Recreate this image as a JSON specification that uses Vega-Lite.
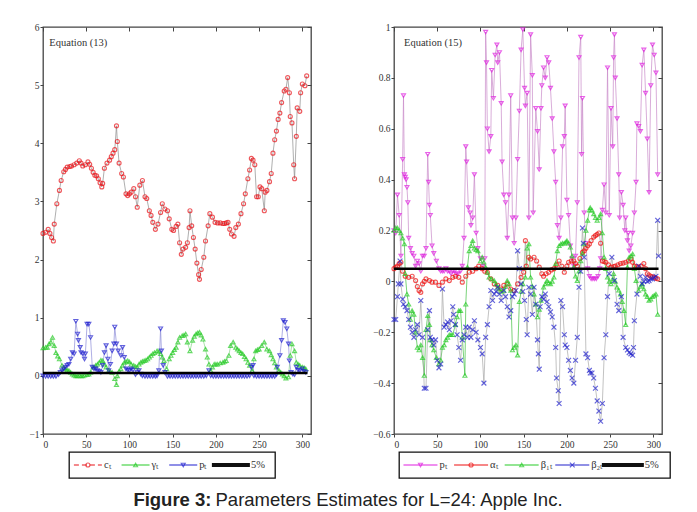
{
"$schema": "https://vega.github.io/schema/vega-lite/v6.json",
"padding": {"left": 28, "top": 21, "right": 0, "bottom": 0},
"background": "white",
"config": {
  "view": {"stroke": "#444", "strokeWidth": 1.3},
  "axis": {"labelFont": "Liberation Serif", "labelFontSize": 9.5, "labelColor": "#333", "tickColor": "#444", "grid": false, "domain": false, "title": null}
},
"datasets": {
"left": [
{"s":"c","t":0,"v":2.45},{"s":"c","t":3,"v":2.47},{"s":"c","t":6,"v":2.52},{"s":"c","t":8,"v":2.45},{"s":"c","t":10,"v":2.38},{"s":"c","t":12,"v":2.32},{"s":"c","t":13,"v":2.61},{"s":"c","t":16,"v":2.96},{"s":"c","t":19,"v":3.19},{"s":"c","t":21,"v":3.36},{"s":"c","t":24,"v":3.51},{"s":"c","t":26,"v":3.55},{"s":"c","t":28,"v":3.59},{"s":"c","t":31,"v":3.6},{"s":"c","t":33,"v":3.61},{"s":"c","t":36,"v":3.63},{"s":"c","t":39,"v":3.66},{"s":"c","t":42,"v":3.7},{"s":"c","t":44,"v":3.66},{"s":"c","t":46,"v":3.61},{"s":"c","t":49,"v":3.63},{"s":"c","t":52,"v":3.68},{"s":"c","t":54,"v":3.64},{"s":"c","t":56,"v":3.57},{"s":"c","t":58,"v":3.5},{"s":"c","t":60,"v":3.45},{"s":"c","t":62,"v":3.44},{"s":"c","t":64,"v":3.39},{"s":"c","t":66,"v":3.32},{"s":"c","t":68,"v":3.25},{"s":"c","t":69,"v":3.31},{"s":"c","t":71,"v":3.57},{"s":"c","t":74,"v":3.66},{"s":"c","t":77,"v":3.71},{"s":"c","t":79,"v":3.77},{"s":"c","t":81,"v":3.83},{"s":"c","t":83,"v":3.89},{"s":"c","t":85,"v":4.3},{"s":"c","t":86,"v":4.03},{"s":"c","t":88,"v":3.66},{"s":"c","t":91,"v":3.48},{"s":"c","t":93,"v":3.42},{"s":"c","t":96,"v":3.13},{"s":"c","t":98,"v":3.1},{"s":"c","t":100,"v":3.13},{"s":"c","t":102,"v":3.16},{"s":"c","t":105,"v":3.22},{"s":"c","t":107,"v":3.08},{"s":"c","t":109,"v":2.9},{"s":"c","t":112,"v":3.28},{"s":"c","t":115,"v":3.36},{"s":"c","t":118,"v":3.08},{"s":"c","t":120,"v":3.05},{"s":"c","t":123,"v":2.84},{"s":"c","t":125,"v":2.76},{"s":"c","t":127,"v":2.64},{"s":"c","t":130,"v":2.52},{"s":"c","t":133,"v":2.61},{"s":"c","t":136,"v":2.81},{"s":"c","t":138,"v":2.96},{"s":"c","t":141,"v":2.87},{"s":"c","t":144,"v":2.84},{"s":"c","t":146,"v":2.7},{"s":"c","t":149,"v":2.52},{"s":"c","t":151,"v":2.5},{"s":"c","t":154,"v":2.57},{"s":"c","t":156,"v":2.61},{"s":"c","t":158,"v":2.29},{"s":"c","t":160,"v":2.09},{"s":"c","t":162,"v":2.18},{"s":"c","t":165,"v":2.21},{"s":"c","t":167,"v":2.29},{"s":"c","t":169,"v":2.55},{"s":"c","t":170,"v":2.84},{"s":"c","t":172,"v":2.58},{"s":"c","t":174,"v":2.38},{"s":"c","t":176,"v":2.18},{"s":"c","t":178,"v":1.94},{"s":"c","t":180,"v":1.74},{"s":"c","t":181,"v":1.66},{"s":"c","t":183,"v":1.83},{"s":"c","t":186,"v":2.04},{"s":"c","t":188,"v":2.32},{"s":"c","t":191,"v":2.58},{"s":"c","t":193,"v":2.79},{"s":"c","t":196,"v":2.73},{"s":"c","t":199,"v":2.64},{"s":"c","t":202,"v":2.63},{"s":"c","t":205,"v":2.63},{"s":"c","t":208,"v":2.62},{"s":"c","t":210,"v":2.62},{"s":"c","t":212,"v":2.63},{"s":"c","t":214,"v":2.64},{"s":"c","t":216,"v":2.52},{"s":"c","t":218,"v":2.44},{"s":"c","t":221,"v":2.4},{"s":"c","t":223,"v":2.55},{"s":"c","t":226,"v":2.61},{"s":"c","t":229,"v":2.79},{"s":"c","t":232,"v":2.96},{"s":"c","t":234,"v":3.13},{"s":"c","t":237,"v":3.39},{"s":"c","t":239,"v":3.54},{"s":"c","t":241,"v":3.74},{"s":"c","t":243,"v":3.71},{"s":"c","t":245,"v":3.63},{"s":"c","t":247,"v":3.08},{"s":"c","t":249,"v":3.08},{"s":"c","t":251,"v":3.25},{"s":"c","t":253,"v":3.22},{"s":"c","t":256,"v":2.84},{"s":"c","t":257,"v":3.16},{"s":"c","t":259,"v":3.19},{"s":"c","t":262,"v":3.34},{"s":"c","t":264,"v":3.48},{"s":"c","t":266,"v":3.83},{"s":"c","t":268,"v":4.06},{"s":"c","t":270,"v":4.21},{"s":"c","t":272,"v":4.41},{"s":"c","t":274,"v":4.52},{"s":"c","t":276,"v":4.7},{"s":"c","t":279,"v":4.9},{"s":"c","t":281,"v":4.93},{"s":"c","t":283,"v":5.13},{"s":"c","t":285,"v":4.87},{"s":"c","t":286,"v":4.46},{"s":"c","t":288,"v":4.35},{"s":"c","t":290,"v":3.63},{"s":"c","t":291,"v":3.39},{"s":"c","t":293,"v":4.12},{"s":"c","t":294,"v":4.61},{"s":"c","t":297,"v":4.55},{"s":"c","t":298,"v":4.87},{"s":"c","t":300,"v":5.02},{"s":"c","t":303,"v":4.99},{"s":"c","t":305,"v":5.16},
{"s":"g","t":0,"v":0.48},{"s":"g","t":3,"v":0.49},{"s":"g","t":5,"v":0.49},{"s":"g","t":7,"v":0.55},{"s":"g","t":9,"v":0.58},{"s":"g","t":11,"v":0.66},{"s":"g","t":13,"v":0.52},{"s":"g","t":15,"v":0.4},{"s":"g","t":17,"v":0.34},{"s":"g","t":19,"v":0.29},{"s":"g","t":22,"v":0.18},{"s":"g","t":24,"v":0.14},{"s":"g","t":26,"v":0.12},{"s":"g","t":28,"v":0.1},{"s":"g","t":30,"v":0.09},{"s":"g","t":32,"v":0.06},{"s":"g","t":34,"v":0.03},{"s":"g","t":36,"v":0.01},{"s":"g","t":38,"v":0.0},{"s":"g","t":40,"v":0.0},{"s":"g","t":42,"v":0.01},{"s":"g","t":44,"v":0.0},{"s":"g","t":46,"v":0.0},{"s":"g","t":48,"v":0.01},{"s":"g","t":51,"v":0.02},{"s":"g","t":53,"v":0.03},{"s":"g","t":55,"v":0.06},{"s":"g","t":58,"v":0.15},{"s":"g","t":61,"v":0.18},{"s":"g","t":63,"v":0.2},{"s":"g","t":65,"v":0.23},{"s":"g","t":67,"v":0.27},{"s":"g","t":69,"v":0.26},{"s":"g","t":71,"v":0.2},{"s":"g","t":73,"v":0.15},{"s":"g","t":76,"v":0.09},{"s":"g","t":78,"v":0.07},{"s":"g","t":80,"v":0.06},{"s":"g","t":83,"v":-0.05},{"s":"g","t":85,"v":-0.15},{"s":"g","t":86,"v":0.0},{"s":"g","t":88,"v":0.08},{"s":"g","t":90,"v":0.12},{"s":"g","t":92,"v":0.18},{"s":"g","t":94,"v":0.23},{"s":"g","t":96,"v":0.25},{"s":"g","t":98,"v":0.26},{"s":"g","t":100,"v":0.24},{"s":"g","t":102,"v":0.2},{"s":"g","t":105,"v":0.18},{"s":"g","t":107,"v":0.16},{"s":"g","t":109,"v":0.15},{"s":"g","t":111,"v":0.2},{"s":"g","t":113,"v":0.23},{"s":"g","t":115,"v":0.25},{"s":"g","t":117,"v":0.26},{"s":"g","t":119,"v":0.27},{"s":"g","t":121,"v":0.29},{"s":"g","t":123,"v":0.32},{"s":"g","t":125,"v":0.35},{"s":"g","t":127,"v":0.38},{"s":"g","t":129,"v":0.4},{"s":"g","t":132,"v":0.43},{"s":"g","t":134,"v":0.42},{"s":"g","t":136,"v":0.38},{"s":"g","t":138,"v":0.32},{"s":"g","t":140,"v":0.26},{"s":"g","t":143,"v":0.12},{"s":"g","t":146,"v":0.29},{"s":"g","t":148,"v":0.35},{"s":"g","t":150,"v":0.4},{"s":"g","t":152,"v":0.45},{"s":"g","t":154,"v":0.49},{"s":"g","t":156,"v":0.58},{"s":"g","t":158,"v":0.66},{"s":"g","t":161,"v":0.69},{"s":"g","t":163,"v":0.7},{"s":"g","t":165,"v":0.72},{"s":"g","t":167,"v":0.58},{"s":"g","t":170,"v":0.43},{"s":"g","t":173,"v":0.61},{"s":"g","t":175,"v":0.68},{"s":"g","t":177,"v":0.72},{"s":"g","t":179,"v":0.74},{"s":"g","t":181,"v":0.75},{"s":"g","t":183,"v":0.7},{"s":"g","t":185,"v":0.63},{"s":"g","t":188,"v":0.46},{"s":"g","t":190,"v":0.32},{"s":"g","t":192,"v":0.2},{"s":"g","t":194,"v":0.09},{"s":"g","t":196,"v":0.15},{"s":"g","t":198,"v":0.2},{"s":"g","t":200,"v":0.2},{"s":"g","t":202,"v":0.2},{"s":"g","t":205,"v":0.22},{"s":"g","t":208,"v":0.23},{"s":"g","t":210,"v":0.25},{"s":"g","t":212,"v":0.26},{"s":"g","t":215,"v":0.35},{"s":"g","t":217,"v":0.52},{"s":"g","t":220,"v":0.58},{"s":"g","t":223,"v":0.49},{"s":"g","t":225,"v":0.46},{"s":"g","t":227,"v":0.43},{"s":"g","t":229,"v":0.4},{"s":"g","t":231,"v":0.38},{"s":"g","t":233,"v":0.33},{"s":"g","t":235,"v":0.29},{"s":"g","t":237,"v":0.23},{"s":"g","t":239,"v":0.18},{"s":"g","t":242,"v":0.09},{"s":"g","t":244,"v":0.29},{"s":"g","t":246,"v":0.43},{"s":"g","t":248,"v":0.45},{"s":"g","t":250,"v":0.46},{"s":"g","t":253,"v":0.52},{"s":"g","t":256,"v":0.58},{"s":"g","t":259,"v":0.46},{"s":"g","t":262,"v":0.43},{"s":"g","t":264,"v":0.36},{"s":"g","t":266,"v":0.29},{"s":"g","t":268,"v":0.22},{"s":"g","t":270,"v":0.15},{"s":"g","t":273,"v":0.09},{"s":"g","t":275,"v":0.06},{"s":"g","t":277,"v":0.03},{"s":"g","t":279,"v":0.0},{"s":"g","t":281,"v":-0.04},{"s":"g","t":284,"v":-0.02},{"s":"g","t":286,"v":0.35},{"s":"g","t":288,"v":0.55},{"s":"g","t":291,"v":0.43},{"s":"g","t":293,"v":0.23},{"s":"g","t":295,"v":0.2},{"s":"g","t":297,"v":0.18},{"s":"g","t":300,"v":0.15},{"s":"g","t":302,"v":0.14},{"s":"g","t":304,"v":0.12},
{"s":"p","t":0,"v":0.0},{"s":"p","t":3,"v":-0.01},{"s":"p","t":6,"v":-0.01},{"s":"p","t":9,"v":-0.01},{"s":"p","t":12,"v":-0.01},{"s":"p","t":15,"v":-0.01},{"s":"p","t":18,"v":0.02},{"s":"p","t":20,"v":0.06},{"s":"p","t":22,"v":0.09},{"s":"p","t":24,"v":0.12},{"s":"p","t":26,"v":0.15},{"s":"p","t":28,"v":0.18},{"s":"p","t":30,"v":0.2},{"s":"p","t":32,"v":0.29},{"s":"p","t":34,"v":0.4},{"s":"p","t":36,"v":0.38},{"s":"p","t":38,"v":0.94},{"s":"p","t":40,"v":0.72},{"s":"p","t":41,"v":0.61},{"s":"p","t":43,"v":0.49},{"s":"p","t":44,"v":0.4},{"s":"p","t":46,"v":0.38},{"s":"p","t":48,"v":0.29},{"s":"p","t":49,"v":0.38},{"s":"p","t":51,"v":0.89},{"s":"p","t":53,"v":0.89},{"s":"p","t":55,"v":0.66},{"s":"p","t":57,"v":0.15},{"s":"p","t":59,"v":0.12},{"s":"p","t":61,"v":0.12},{"s":"p","t":63,"v":0.09},{"s":"p","t":65,"v":0.08},{"s":"p","t":67,"v":0.06},{"s":"p","t":69,"v":0.18},{"s":"p","t":71,"v":0.4},{"s":"p","t":73,"v":0.52},{"s":"p","t":75,"v":0.29},{"s":"p","t":76,"v":0.09},{"s":"p","t":78,"v":0.2},{"s":"p","t":80,"v":0.43},{"s":"p","t":82,"v":0.55},{"s":"p","t":83,"v":0.84},{"s":"p","t":85,"v":0.55},{"s":"p","t":87,"v":0.43},{"s":"p","t":90,"v":0.35},{"s":"p","t":92,"v":0.49},{"s":"p","t":94,"v":0.32},{"s":"p","t":96,"v":0.12},{"s":"p","t":98,"v":0.1},{"s":"p","t":100,"v":0.09},{"s":"p","t":102,"v":0.12},{"s":"p","t":104,"v":0.1},{"s":"p","t":107,"v":0.02},{"s":"p","t":109,"v":0.06},{"s":"p","t":111,"v":0.09},{"s":"p","t":113,"v":0.03},{"s":"p","t":115,"v":0.0},{"s":"p","t":118,"v":-0.01},{"s":"p","t":121,"v":-0.01},{"s":"p","t":124,"v":-0.01},{"s":"p","t":127,"v":-0.01},{"s":"p","t":130,"v":-0.01},{"s":"p","t":132,"v":0.0},{"s":"p","t":134,"v":0.09},{"s":"p","t":136,"v":0.81},{"s":"p","t":137,"v":0.43},{"s":"p","t":139,"v":0.18},{"s":"p","t":141,"v":0.06},{"s":"p","t":144,"v":-0.01},{"s":"p","t":147,"v":-0.01},{"s":"p","t":150,"v":-0.01},{"s":"p","t":153,"v":-0.01},{"s":"p","t":156,"v":-0.01},{"s":"p","t":159,"v":-0.01},{"s":"p","t":162,"v":-0.01},{"s":"p","t":165,"v":-0.01},{"s":"p","t":168,"v":-0.01},{"s":"p","t":171,"v":-0.01},{"s":"p","t":174,"v":-0.01},{"s":"p","t":177,"v":-0.01},{"s":"p","t":180,"v":-0.01},{"s":"p","t":183,"v":-0.01},{"s":"p","t":186,"v":-0.01},{"s":"p","t":189,"v":0.0},{"s":"p","t":192,"v":0.09},{"s":"p","t":194,"v":0.0},{"s":"p","t":197,"v":-0.01},{"s":"p","t":200,"v":-0.01},{"s":"p","t":203,"v":-0.01},{"s":"p","t":206,"v":-0.01},{"s":"p","t":209,"v":-0.01},{"s":"p","t":212,"v":-0.01},{"s":"p","t":215,"v":-0.01},{"s":"p","t":218,"v":-0.01},{"s":"p","t":221,"v":-0.01},{"s":"p","t":224,"v":-0.01},{"s":"p","t":227,"v":-0.01},{"s":"p","t":230,"v":-0.01},{"s":"p","t":233,"v":-0.01},{"s":"p","t":236,"v":-0.01},{"s":"p","t":239,"v":0.0},{"s":"p","t":241,"v":0.15},{"s":"p","t":243,"v":0.18},{"s":"p","t":244,"v":0.0},{"s":"p","t":247,"v":-0.01},{"s":"p","t":250,"v":-0.01},{"s":"p","t":253,"v":-0.01},{"s":"p","t":256,"v":-0.01},{"s":"p","t":259,"v":-0.01},{"s":"p","t":262,"v":-0.01},{"s":"p","t":265,"v":-0.01},{"s":"p","t":268,"v":-0.01},{"s":"p","t":270,"v":0.02},{"s":"p","t":271,"v":0.15},{"s":"p","t":274,"v":0.35},{"s":"p","t":276,"v":0.61},{"s":"p","t":278,"v":0.95},{"s":"p","t":280,"v":0.92},{"s":"p","t":282,"v":0.81},{"s":"p","t":284,"v":0.55},{"s":"p","t":285,"v":0.26},{"s":"p","t":287,"v":0.06},{"s":"p","t":289,"v":0.03},{"s":"p","t":291,"v":0.02},{"s":"p","t":293,"v":0.15},{"s":"p","t":295,"v":0.1},{"s":"p","t":297,"v":0.09},{"s":"p","t":300,"v":0.12},{"s":"p","t":302,"v":0.08},{"s":"p","t":304,"v":0.06}
],
"right": [
{"s":"p","t":0,"v":0.2},{"s":"p","t":2,"v":0.19},{"s":"p","t":4,"v":0.34},{"s":"p","t":6,"v":0.26},{"s":"p","t":8,"v":0.1},{"s":"p","t":10,"v":0.48},{"s":"p","t":11,"v":0.73},{"s":"p","t":12,"v":0.42},{"s":"p","t":13,"v":0.41},{"s":"p","t":14,"v":0.4},{"s":"p","t":15,"v":0.37},{"s":"p","t":16,"v":0.31},{"s":"p","t":17,"v":0.17},{"s":"p","t":19,"v":0.13},{"s":"p","t":21,"v":0.11},{"s":"p","t":23,"v":0.1},{"s":"p","t":25,"v":0.06},{"s":"p","t":27,"v":0.08},{"s":"p","t":29,"v":0.07},{"s":"p","t":31,"v":0.04},{"s":"p","t":33,"v":0.1},{"s":"p","t":35,"v":0.1},{"s":"p","t":37,"v":0.13},{"s":"p","t":39,"v":0.5},{"s":"p","t":40,"v":0.39},{"s":"p","t":41,"v":0.3},{"s":"p","t":42,"v":0.26},{"s":"p","t":44,"v":0.14},{"s":"p","t":46,"v":0.11},{"s":"p","t":49,"v":0.08},{"s":"p","t":52,"v":0.05},{"s":"p","t":54,"v":0.04},{"s":"p","t":56,"v":0.04},{"s":"p","t":58,"v":0.04},{"s":"p","t":60,"v":0.05},{"s":"p","t":62,"v":0.04},{"s":"p","t":64,"v":0.04},{"s":"p","t":66,"v":0.03},{"s":"p","t":68,"v":0.04},{"s":"p","t":70,"v":0.04},{"s":"p","t":72,"v":0.03},{"s":"p","t":74,"v":0.03},{"s":"p","t":77,"v":0.04},{"s":"p","t":79,"v":0.06},{"s":"p","t":81,"v":0.17},{"s":"p","t":83,"v":0.53},{"s":"p","t":84,"v":0.47},{"s":"p","t":86,"v":0.29},{"s":"p","t":88,"v":0.27},{"s":"p","t":89,"v":0.22},{"s":"p","t":91,"v":0.25},{"s":"p","t":93,"v":0.42},{"s":"p","t":95,"v":0.19},{"s":"p","t":97,"v":0.13},{"s":"p","t":100,"v":0.09},{"s":"p","t":103,"v":0.06},{"s":"p","t":105,"v":0.09},{"s":"p","t":106,"v":0.98},{"s":"p","t":107,"v":0.86},{"s":"p","t":108,"v":0.6},{"s":"p","t":110,"v":0.51},{"s":"p","t":112,"v":0.57},{"s":"p","t":113,"v":0.83},{"s":"p","t":115,"v":0.72},{"s":"p","t":117,"v":0.89},{"s":"p","t":119,"v":0.93},{"s":"p","t":120,"v":0.86},{"s":"p","t":122,"v":0.9},{"s":"p","t":124,"v":0.7},{"s":"p","t":125,"v":0.47},{"s":"p","t":127,"v":0.34},{"s":"p","t":129,"v":0.31},{"s":"p","t":131,"v":0.17},{"s":"p","t":133,"v":0.34},{"s":"p","t":135,"v":0.73},{"s":"p","t":137,"v":0.25},{"s":"p","t":139,"v":0.15},{"s":"p","t":141,"v":0.25},{"s":"p","t":143,"v":0.48},{"s":"p","t":145,"v":0.67},{"s":"p","t":147,"v":0.91},{"s":"p","t":149,"v":0.99},{"s":"p","t":151,"v":0.76},{"s":"p","t":152,"v":0.69},{"s":"p","t":154,"v":0.74},{"s":"p","t":156,"v":0.25},{"s":"p","t":158,"v":0.97},{"s":"p","t":160,"v":0.81},{"s":"p","t":161,"v":0.27},{"s":"p","t":164,"v":0.68},{"s":"p","t":166,"v":0.59},{"s":"p","t":168,"v":0.44},{"s":"p","t":170,"v":0.68},{"s":"p","t":171,"v":0.77},{"s":"p","t":173,"v":0.84},{"s":"p","t":175,"v":0.8},{"s":"p","t":177,"v":0.88},{"s":"p","t":179,"v":0.86},{"s":"p","t":181,"v":0.76},{"s":"p","t":183,"v":0.64},{"s":"p","t":185,"v":0.51},{"s":"p","t":187,"v":0.39},{"s":"p","t":189,"v":0.22},{"s":"p","t":191,"v":0.17},{"s":"p","t":193,"v":0.25},{"s":"p","t":195,"v":0.53},{"s":"p","t":197,"v":0.57},{"s":"p","t":198,"v":0.69},{"s":"p","t":200,"v":0.32},{"s":"p","t":202,"v":0.26},{"s":"p","t":204,"v":0.14},{"s":"p","t":206,"v":0.09},{"s":"p","t":208,"v":0.06},{"s":"p","t":210,"v":0.1},{"s":"p","t":212,"v":0.31},{"s":"p","t":214,"v":0.88},{"s":"p","t":216,"v":0.96},{"s":"p","t":217,"v":0.5},{"s":"p","t":218,"v":0.72},{"s":"p","t":220,"v":0.27},{"s":"p","t":222,"v":0.15},{"s":"p","t":224,"v":0.05},{"s":"p","t":226,"v":0.02},{"s":"p","t":228,"v":0.01},{"s":"p","t":230,"v":0.01},{"s":"p","t":232,"v":0.01},{"s":"p","t":234,"v":0.01},{"s":"p","t":236,"v":0.02},{"s":"p","t":238,"v":0.05},{"s":"p","t":239,"v":0.09},{"s":"p","t":241,"v":0.28},{"s":"p","t":243,"v":0.38},{"s":"p","t":245,"v":0.27},{"s":"p","t":247,"v":0.84},{"s":"p","t":249,"v":0.26},{"s":"p","t":251,"v":0.68},{"s":"p","t":253,"v":0.53},{"s":"p","t":254,"v":0.88},{"s":"p","t":255,"v":0.97},{"s":"p","t":256,"v":0.8},{"s":"p","t":258,"v":0.64},{"s":"p","t":260,"v":0.42},{"s":"p","t":261,"v":0.25},{"s":"p","t":263,"v":0.35},{"s":"p","t":265,"v":0.3},{"s":"p","t":267,"v":0.2},{"s":"p","t":268,"v":0.25},{"s":"p","t":270,"v":0.16},{"s":"p","t":271,"v":0.19},{"s":"p","t":272,"v":0.12},{"s":"p","t":274,"v":0.14},{"s":"p","t":276,"v":0.19},{"s":"p","t":278,"v":0.27},{"s":"p","t":280,"v":0.39},{"s":"p","t":281,"v":0.62},{"s":"p","t":283,"v":0.61},{"s":"p","t":285,"v":0.59},{"s":"p","t":287,"v":0.85},{"s":"p","t":289,"v":0.91},{"s":"p","t":291,"v":0.74},{"s":"p","t":293,"v":0.56},{"s":"p","t":295,"v":0.35},{"s":"p","t":297,"v":0.77},{"s":"p","t":299,"v":0.93},{"s":"p","t":301,"v":0.89},{"s":"p","t":303,"v":0.82},{"s":"p","t":305,"v":0.42},
{"s":"a","t":0,"v":0.05},{"s":"a","t":2,"v":0.055},{"s":"a","t":4,"v":0.06},{"s":"a","t":6,"v":0.07},{"s":"a","t":8,"v":0.075},{"s":"a","t":10,"v":0.04},{"s":"a","t":13,"v":0.02},{"s":"a","t":17,"v":0.016},{"s":"a","t":21,"v":0.02},{"s":"a","t":25,"v":0.003},{"s":"a","t":27,"v":-0.02},{"s":"a","t":29,"v":-0.036},{"s":"a","t":31,"v":-0.043},{"s":"a","t":33,"v":-0.01},{"s":"a","t":35,"v":0.0},{"s":"a","t":37,"v":0.01},{"s":"a","t":41,"v":0.003},{"s":"a","t":44,"v":-0.003},{"s":"a","t":48,"v":-0.003},{"s":"a","t":52,"v":-0.016},{"s":"a","t":56,"v":-0.003},{"s":"a","t":60,"v":0.01},{"s":"a","t":64,"v":0.003},{"s":"a","t":68,"v":0.016},{"s":"a","t":71,"v":0.02},{"s":"a","t":75,"v":0.016},{"s":"a","t":79,"v":-0.003},{"s":"a","t":83,"v":0.02},{"s":"a","t":87,"v":0.036},{"s":"a","t":91,"v":0.04},{"s":"a","t":95,"v":0.05},{"s":"a","t":98,"v":0.06},{"s":"a","t":102,"v":0.05},{"s":"a","t":105,"v":0.04},{"s":"a","t":108,"v":0.036},{"s":"a","t":112,"v":0.01},{"s":"a","t":116,"v":-0.01},{"s":"a","t":120,"v":-0.016},{"s":"a","t":124,"v":-0.03},{"s":"a","t":127,"v":-0.016},{"s":"a","t":131,"v":-0.01},{"s":"a","t":135,"v":-0.03},{"s":"a","t":139,"v":-0.036},{"s":"a","t":143,"v":-0.01},{"s":"a","t":147,"v":0.016},{"s":"a","t":150,"v":0.036},{"s":"a","t":152,"v":0.16},{"s":"a","t":153,"v":0.06},{"s":"a","t":156,"v":0.095},{"s":"a","t":158,"v":0.088},{"s":"a","t":162,"v":0.095},{"s":"a","t":165,"v":0.08},{"s":"a","t":168,"v":0.056},{"s":"a","t":171,"v":0.03},{"s":"a","t":173,"v":0.02},{"s":"a","t":176,"v":0.03},{"s":"a","t":179,"v":0.036},{"s":"a","t":182,"v":0.045},{"s":"a","t":185,"v":0.05},{"s":"a","t":188,"v":0.065},{"s":"a","t":191,"v":0.08},{"s":"a","t":194,"v":0.06},{"s":"a","t":197,"v":0.036},{"s":"a","t":200,"v":0.06},{"s":"a","t":202,"v":0.075},{"s":"a","t":205,"v":0.08},{"s":"a","t":208,"v":0.08},{"s":"a","t":210,"v":0.07},{"s":"a","t":212,"v":0.06},{"s":"a","t":215,"v":0.09},{"s":"a","t":218,"v":0.114},{"s":"a","t":220,"v":0.12},{"s":"a","t":222,"v":0.13},{"s":"a","t":224,"v":0.14},{"s":"a","t":226,"v":0.147},{"s":"a","t":228,"v":0.16},{"s":"a","t":231,"v":0.174},{"s":"a","t":233,"v":0.18},{"s":"a","t":235,"v":0.185},{"s":"a","t":237,"v":0.19},{"s":"a","t":239,"v":0.15},{"s":"a","t":241,"v":0.08},{"s":"a","t":243,"v":0.078},{"s":"a","t":245,"v":0.075},{"s":"a","t":248,"v":0.065},{"s":"a","t":251,"v":0.056},{"s":"a","t":254,"v":0.058},{"s":"a","t":256,"v":0.06},{"s":"a","t":259,"v":0.065},{"s":"a","t":262,"v":0.07},{"s":"a","t":265,"v":0.072},{"s":"a","t":268,"v":0.075},{"s":"a","t":271,"v":0.08},{"s":"a","t":274,"v":0.088},{"s":"a","t":276,"v":0.075},{"s":"a","t":278,"v":0.06},{"s":"a","t":281,"v":0.058},{"s":"a","t":283,"v":0.056},{"s":"a","t":286,"v":0.06},{"s":"a","t":289,"v":0.07},{"s":"a","t":291,"v":0.05},{"s":"a","t":293,"v":0.03},{"s":"a","t":295,"v":0.025},{"s":"a","t":297,"v":0.02},{"s":"a","t":299,"v":0.018},{"s":"a","t":301,"v":0.016},{"s":"a","t":303,"v":0.012},{"s":"a","t":305,"v":0.01},
{"s":"b1","t":0,"v":0.2},{"s":"b1","t":2,"v":0.21},{"s":"b1","t":4,"v":0.21},{"s":"b1","t":6,"v":0.2},{"s":"b1","t":8,"v":0.19},{"s":"b1","t":10,"v":0.17},{"s":"b1","t":12,"v":0.147},{"s":"b1","t":13,"v":0.03},{"s":"b1","t":15,"v":-0.05},{"s":"b1","t":17,"v":-0.09},{"s":"b1","t":19,"v":-0.15},{"s":"b1","t":21,"v":-0.115},{"s":"b1","t":23,"v":-0.13},{"s":"b1","t":25,"v":-0.2},{"s":"b1","t":27,"v":-0.26},{"s":"b1","t":29,"v":-0.27},{"s":"b1","t":31,"v":-0.25},{"s":"b1","t":33,"v":-0.3},{"s":"b1","t":35,"v":-0.37},{"s":"b1","t":37,"v":-0.19},{"s":"b1","t":39,"v":-0.135},{"s":"b1","t":41,"v":-0.17},{"s":"b1","t":42,"v":-0.23},{"s":"b1","t":44,"v":-0.25},{"s":"b1","t":46,"v":-0.27},{"s":"b1","t":49,"v":-0.3},{"s":"b1","t":52,"v":-0.325},{"s":"b1","t":54,"v":-0.31},{"s":"b1","t":56,"v":-0.26},{"s":"b1","t":58,"v":-0.25},{"s":"b1","t":60,"v":-0.23},{"s":"b1","t":62,"v":-0.22},{"s":"b1","t":64,"v":-0.21},{"s":"b1","t":66,"v":-0.21},{"s":"b1","t":68,"v":-0.21},{"s":"b1","t":71,"v":-0.17},{"s":"b1","t":73,"v":-0.14},{"s":"b1","t":75,"v":-0.115},{"s":"b1","t":77,"v":-0.115},{"s":"b1","t":79,"v":-0.22},{"s":"b1","t":82,"v":-0.37},{"s":"b1","t":83,"v":-0.09},{"s":"b1","t":85,"v":0.056},{"s":"b1","t":87,"v":0.12},{"s":"b1","t":89,"v":0.14},{"s":"b1","t":91,"v":0.16},{"s":"b1","t":93,"v":0.13},{"s":"b1","t":95,"v":0.125},{"s":"b1","t":97,"v":0.12},{"s":"b1","t":100,"v":0.08},{"s":"b1","t":102,"v":0.095},{"s":"b1","t":104,"v":0.075},{"s":"b1","t":106,"v":0.056},{"s":"b1","t":108,"v":0.035},{"s":"b1","t":110,"v":0.016},{"s":"b1","t":113,"v":0.01},{"s":"b1","t":116,"v":0.003},{"s":"b1","t":118,"v":-0.01},{"s":"b1","t":120,"v":-0.023},{"s":"b1","t":122,"v":-0.03},{"s":"b1","t":124,"v":-0.04},{"s":"b1","t":127,"v":-0.036},{"s":"b1","t":129,"v":-0.02},{"s":"b1","t":131,"v":0.003},{"s":"b1","t":133,"v":-0.01},{"s":"b1","t":135,"v":-0.036},{"s":"b1","t":137,"v":-0.27},{"s":"b1","t":139,"v":-0.26},{"s":"b1","t":141,"v":-0.25},{"s":"b1","t":143,"v":-0.29},{"s":"b1","t":145,"v":-0.08},{"s":"b1","t":147,"v":-0.04},{"s":"b1","t":149,"v":-0.01},{"s":"b1","t":152,"v":0.016},{"s":"b1","t":154,"v":0.13},{"s":"b1","t":156,"v":0.147},{"s":"b1","t":158,"v":0.016},{"s":"b1","t":160,"v":-0.02},{"s":"b1","t":162,"v":-0.05},{"s":"b1","t":164,"v":-0.09},{"s":"b1","t":166,"v":-0.14},{"s":"b1","t":168,"v":-0.11},{"s":"b1","t":170,"v":-0.075},{"s":"b1","t":173,"v":-0.023},{"s":"b1","t":175,"v":-0.01},{"s":"b1","t":177,"v":0.003},{"s":"b1","t":179,"v":-0.005},{"s":"b1","t":181,"v":-0.01},{"s":"b1","t":183,"v":0.0},{"s":"b1","t":185,"v":0.016},{"s":"b1","t":187,"v":0.07},{"s":"b1","t":189,"v":0.12},{"s":"b1","t":191,"v":0.14},{"s":"b1","t":193,"v":0.147},{"s":"b1","t":195,"v":0.15},{"s":"b1","t":197,"v":0.15},{"s":"b1","t":199,"v":0.155},{"s":"b1","t":200,"v":0.16},{"s":"b1","t":202,"v":0.15},{"s":"b1","t":204,"v":0.134},{"s":"b1","t":206,"v":0.1},{"s":"b1","t":208,"v":0.056},{"s":"b1","t":210,"v":0.02},{"s":"b1","t":212,"v":0.003},{"s":"b1","t":214,"v":0.04},{"s":"b1","t":216,"v":0.08},{"s":"b1","t":218,"v":0.11},{"s":"b1","t":220,"v":0.147},{"s":"b1","t":222,"v":0.2},{"s":"b1","t":224,"v":0.24},{"s":"b1","t":226,"v":0.28},{"s":"b1","t":227,"v":0.29},{"s":"b1","t":229,"v":0.28},{"s":"b1","t":231,"v":0.265},{"s":"b1","t":233,"v":0.25},{"s":"b1","t":235,"v":0.24},{"s":"b1","t":237,"v":0.25},{"s":"b1","t":239,"v":0.265},{"s":"b1","t":241,"v":0.19},{"s":"b1","t":243,"v":0.095},{"s":"b1","t":245,"v":0.05},{"s":"b1","t":247,"v":0.016},{"s":"b1","t":249,"v":0.0},{"s":"b1","t":251,"v":-0.01},{"s":"b1","t":253,"v":0.01},{"s":"b1","t":254,"v":0.03},{"s":"b1","t":256,"v":0.0},{"s":"b1","t":258,"v":-0.023},{"s":"b1","t":260,"v":-0.035},{"s":"b1","t":262,"v":-0.05},{"s":"b1","t":264,"v":-0.08},{"s":"b1","t":266,"v":-0.115},{"s":"b1","t":268,"v":-0.17},{"s":"b1","t":270,"v":0.056},{"s":"b1","t":272,"v":0.095},{"s":"b1","t":274,"v":0.1},{"s":"b1","t":276,"v":0.108},{"s":"b1","t":278,"v":0.05},{"s":"b1","t":280,"v":0.003},{"s":"b1","t":283,"v":-0.036},{"s":"b1","t":285,"v":-0.02},{"s":"b1","t":287,"v":-0.01},{"s":"b1","t":289,"v":-0.03},{"s":"b1","t":291,"v":-0.05},{"s":"b1","t":293,"v":-0.06},{"s":"b1","t":295,"v":-0.075},{"s":"b1","t":297,"v":-0.07},{"s":"b1","t":299,"v":-0.06},{"s":"b1","t":301,"v":-0.055},{"s":"b1","t":303,"v":-0.05},{"s":"b1","t":305,"v":-0.13},
{"s":"b2","t":0,"v":-0.15},{"s":"b2","t":2,"v":-0.15},{"s":"b2","t":4,"v":-0.06},{"s":"b2","t":5,"v":-0.01},{"s":"b2","t":7,"v":0.08},{"s":"b2","t":8,"v":-0.01},{"s":"b2","t":10,"v":-0.07},{"s":"b2","t":11,"v":-0.09},{"s":"b2","t":13,"v":-0.1},{"s":"b2","t":15,"v":-0.115},{"s":"b2","t":17,"v":-0.15},{"s":"b2","t":19,"v":-0.18},{"s":"b2","t":21,"v":-0.2},{"s":"b2","t":23,"v":-0.22},{"s":"b2","t":25,"v":-0.19},{"s":"b2","t":27,"v":-0.17},{"s":"b2","t":29,"v":-0.21},{"s":"b2","t":31,"v":-0.075},{"s":"b2","t":33,"v":-0.22},{"s":"b2","t":35,"v":-0.42},{"s":"b2","t":37,"v":-0.42},{"s":"b2","t":39,"v":-0.19},{"s":"b2","t":41,"v":-0.115},{"s":"b2","t":42,"v":-0.22},{"s":"b2","t":44,"v":-0.23},{"s":"b2","t":46,"v":-0.25},{"s":"b2","t":48,"v":-0.23},{"s":"b2","t":50,"v":-0.31},{"s":"b2","t":52,"v":-0.34},{"s":"b2","t":54,"v":-0.325},{"s":"b2","t":56,"v":-0.03},{"s":"b2","t":58,"v":-0.18},{"s":"b2","t":60,"v":-0.17},{"s":"b2","t":62,"v":-0.16},{"s":"b2","t":64,"v":-0.19},{"s":"b2","t":66,"v":-0.155},{"s":"b2","t":68,"v":-0.1},{"s":"b2","t":69,"v":-0.13},{"s":"b2","t":71,"v":-0.17},{"s":"b2","t":73,"v":-0.21},{"s":"b2","t":75,"v":-0.26},{"s":"b2","t":77,"v":-0.31},{"s":"b2","t":79,"v":-0.23},{"s":"b2","t":81,"v":-0.21},{"s":"b2","t":83,"v":-0.18},{"s":"b2","t":85,"v":-0.22},{"s":"b2","t":87,"v":-0.18},{"s":"b2","t":89,"v":-0.22},{"s":"b2","t":91,"v":-0.19},{"s":"b2","t":93,"v":-0.155},{"s":"b2","t":95,"v":-0.2},{"s":"b2","t":97,"v":-0.23},{"s":"b2","t":100,"v":-0.26},{"s":"b2","t":102,"v":-0.285},{"s":"b2","t":104,"v":-0.4},{"s":"b2","t":106,"v":-0.22},{"s":"b2","t":108,"v":-0.17},{"s":"b2","t":110,"v":-0.1},{"s":"b2","t":112,"v":-0.036},{"s":"b2","t":114,"v":-0.075},{"s":"b2","t":116,"v":-0.05},{"s":"b2","t":118,"v":-0.04},{"s":"b2","t":120,"v":-0.023},{"s":"b2","t":122,"v":-0.05},{"s":"b2","t":124,"v":-0.075},{"s":"b2","t":127,"v":-0.036},{"s":"b2","t":129,"v":-0.06},{"s":"b2","t":131,"v":-0.1},{"s":"b2","t":133,"v":-0.14},{"s":"b2","t":135,"v":-0.115},{"s":"b2","t":137,"v":-0.06},{"s":"b2","t":139,"v":-0.05},{"s":"b2","t":141,"v":-0.036},{"s":"b2","t":143,"v":0.12},{"s":"b2","t":145,"v":0.05},{"s":"b2","t":147,"v":-0.01},{"s":"b2","t":149,"v":-0.04},{"s":"b2","t":151,"v":-0.075},{"s":"b2","t":153,"v":-0.15},{"s":"b2","t":154,"v":-0.21},{"s":"b2","t":156,"v":-0.023},{"s":"b2","t":158,"v":-0.05},{"s":"b2","t":160,"v":-0.13},{"s":"b2","t":162,"v":-0.023},{"s":"b2","t":164,"v":-0.09},{"s":"b2","t":166,"v":-0.23},{"s":"b2","t":167,"v":-0.285},{"s":"b2","t":168,"v":-0.345},{"s":"b2","t":169,"v":-0.1},{"s":"b2","t":171,"v":-0.06},{"s":"b2","t":173,"v":-0.07},{"s":"b2","t":175,"v":-0.05},{"s":"b2","t":177,"v":-0.08},{"s":"b2","t":179,"v":-0.1},{"s":"b2","t":181,"v":-0.12},{"s":"b2","t":183,"v":-0.14},{"s":"b2","t":185,"v":-0.18},{"s":"b2","t":187,"v":-0.26},{"s":"b2","t":188,"v":-0.38},{"s":"b2","t":190,"v":-0.43},{"s":"b2","t":191,"v":-0.48},{"s":"b2","t":193,"v":-0.075},{"s":"b2","t":195,"v":-0.1},{"s":"b2","t":197,"v":-0.21},{"s":"b2","t":198,"v":-0.25},{"s":"b2","t":200,"v":-0.26},{"s":"b2","t":202,"v":-0.31},{"s":"b2","t":204,"v":-0.35},{"s":"b2","t":206,"v":-0.38},{"s":"b2","t":208,"v":-0.4},{"s":"b2","t":210,"v":-0.31},{"s":"b2","t":212,"v":-0.22},{"s":"b2","t":214,"v":-0.023},{"s":"b2","t":216,"v":0.04},{"s":"b2","t":218,"v":0.21},{"s":"b2","t":219,"v":0.15},{"s":"b2","t":220,"v":0.095},{"s":"b2","t":222,"v":-0.285},{"s":"b2","t":224,"v":-0.3},{"s":"b2","t":226,"v":-0.35},{"s":"b2","t":227,"v":-0.36},{"s":"b2","t":229,"v":-0.36},{"s":"b2","t":231,"v":-0.38},{"s":"b2","t":233,"v":-0.42},{"s":"b2","t":235,"v":-0.47},{"s":"b2","t":237,"v":-0.51},{"s":"b2","t":239,"v":-0.55},{"s":"b2","t":241,"v":-0.48},{"s":"b2","t":243,"v":-0.3},{"s":"b2","t":245,"v":-0.21},{"s":"b2","t":247,"v":-0.06},{"s":"b2","t":249,"v":0.03},{"s":"b2","t":252,"v":0.095},{"s":"b2","t":255,"v":0.003},{"s":"b2","t":258,"v":-0.09},{"s":"b2","t":260,"v":-0.115},{"s":"b2","t":263,"v":-0.06},{"s":"b2","t":265,"v":-0.22},{"s":"b2","t":268,"v":-0.26},{"s":"b2","t":270,"v":-0.27},{"s":"b2","t":272,"v":-0.28},{"s":"b2","t":274,"v":-0.285},{"s":"b2","t":276,"v":-0.29},{"s":"b2","t":277,"v":-0.26},{"s":"b2","t":278,"v":-0.155},{"s":"b2","t":281,"v":-0.05},{"s":"b2","t":283,"v":0.06},{"s":"b2","t":285,"v":0.02},{"s":"b2","t":287,"v":-0.01},{"s":"b2","t":289,"v":0.0},{"s":"b2","t":291,"v":0.016},{"s":"b2","t":293,"v":0.0},{"s":"b2","t":295,"v":0.003},{"s":"b2","t":297,"v":0.01},{"s":"b2","t":299,"v":0.01},{"s":"b2","t":301,"v":0.015},{"s":"b2","t":303,"v":0.02},{"s":"b2","t":305,"v":0.24},{"s":"b2","t":306,"v":0.1}
],
"legL": [{"s":"c","lab":"cₜ"},{"s":"g","lab":"γₜ"},{"s":"p","lab":"pₜ"},{"s":"f","lab":"5%"}],
"legR": [{"s":"p","lab":"pₜ"},{"s":"a","lab":"αₜ"},{"s":"b1","lab":"β₁ₜ"},{"s":"b2","lab":"β₂ₜ"},{"s":"f","lab":"5%"}]
},
"vconcat": [
{
"vconcat": [
{
"hconcat": [
{
 "width": 268, "height": 407,
 "data": {"name": "left"},
 "layer": [
  {"layer": [
   {"mark": {"type": "line", "strokeWidth": 0.7},
    "encoding": {
     "x": {"field": "t", "type": "quantitative", "scale": {"domain": [0, 310], "nice": false}, "axis": {"orient": "bottom", "values": [0,50,100,150,200,250,300], "tickSize": 3, "labelPadding": 2, "title": null}},
     "y": {"field": "v", "type": "quantitative", "scale": {"domain": [-1, 6], "nice": false}, "axis": {"orient": "left", "values": [-1,0,1,2,3,4,5,6], "format": "~g", "tickSize": 3, "labelPadding": 1, "title": null}},
     "stroke": {"field": "s", "type": "nominal", "scale": {"domain": ["c","g","p","f"], "range": ["#8c8c8c","#86d486","#8c8cd8","#000000"]}, "legend": null}
    }},
   {"mark": {"type": "point", "filled": false, "size": 16, "strokeWidth": 1.15},
    "encoding": {
     "x": {"field": "t", "type": "quantitative"},
     "y": {"field": "v", "type": "quantitative"},
     "color": {"field": "s", "type": "nominal", "scale": {"domain": ["c","g","p","f"], "range": ["#e8141a","#28cc28","#2020d0","#000000"]}, "legend": null},
     "shape": {"field": "s", "type": "nominal", "scale": {"domain": ["c","g","p","f"], "range": ["circle","triangle-up","triangle-down","square"]}, "legend": null}
    }},
   {"data": {"values": [{}]}, "mark": {"type": "rule", "strokeWidth": 2.5, "color": "#000"},
    "encoding": {"x": {"datum": 0}, "x2": {"datum": 306}, "y": {"datum": 0.05}}}
  ]},
  {"data": {"values": [{}]},
   "mark": {"type": "text", "text": "Equation (13)", "align": "left", "baseline": "middle", "font": "Liberation Serif", "fontSize": 10.5, "color": "#333"},
   "encoding": {
    "x": {"datum": 7.3, "type": "quantitative", "axis": {"orient": "top", "values": [0,50,100,150,200,250,300], "labels": false, "tickSize": -4, "title": null}},
    "y": {"datum": 5.72, "type": "quantitative", "axis": {"orient": "right", "values": [-1,0,1,2,3,4,5,6], "labels": false, "tickSize": -4, "title": null}}
   }}
 ],
 "resolve": {"axis": {"x": "independent", "y": "independent"}}
},
{
 "width": 268, "height": 407,
 "data": {"name": "right"},
 "layer": [
  {"layer": [
   {"mark": {"type": "line", "strokeWidth": 0.7},
    "encoding": {
     "x": {"field": "t", "type": "quantitative", "scale": {"domain": [0, 310], "nice": false}, "axis": {"orient": "bottom", "values": [0,50,100,150,200,250,300], "tickSize": 3, "labelPadding": 2, "title": null}},
     "y": {"field": "v", "type": "quantitative", "scale": {"domain": [-0.6, 1], "nice": false}, "axis": {"orient": "left", "values": [-0.6,-0.4,-0.2,0,0.2,0.4,0.6,0.8,1], "format": "~g", "tickSize": 3, "labelPadding": 1, "title": null}},
     "stroke": {"field": "s", "type": "nominal", "scale": {"domain": ["p","a","b1","b2","f"], "range": ["#c98ac9","#a8a8a8","#40c040","#a8a8a8","#000000"]}, "legend": null}
    }},
   {"mark": {"type": "point", "filled": false, "size": 16, "strokeWidth": 1.15},
    "encoding": {
     "x": {"field": "t", "type": "quantitative"},
     "y": {"field": "v", "type": "quantitative"},
     "color": {"field": "s", "type": "nominal", "scale": {"domain": ["p","a","b1","b2","f"], "range": ["#e020e0","#ee1111","#28cc28","#2222cc","#000000"]}, "legend": null},
     "shape": {"field": "s", "type": "nominal", "scale": {"domain": ["p","a","b1","b2","f"], "range": ["triangle-down","circle","triangle-up","M-1.2,-1.2L1.2,1.2M1.2,-1.2L-1.2,1.2","square"]}, "legend": null}
    }},
   {"data": {"values": [{}]}, "mark": {"type": "rule", "strokeWidth": 2.5, "color": "#000"},
    "encoding": {"x": {"datum": 0}, "x2": {"datum": 306}, "y": {"datum": 0.05}}}
  ]},
  {"data": {"values": [{}]},
   "mark": {"type": "text", "text": "Equation  (15)", "align": "left", "baseline": "middle", "font": "Liberation Serif", "fontSize": 10.5, "color": "#333"},
   "encoding": {
    "x": {"datum": 11.6, "type": "quantitative", "axis": {"orient": "top", "values": [0,50,100,150,200,250,300], "labels": false, "tickSize": -4, "title": null}},
    "y": {"datum": 0.936, "type": "quantitative", "axis": {"orient": "right", "values": [-0.6,-0.4,-0.2,0,0.2,0.4,0.6,0.8,1], "labels": false, "tickSize": -4, "title": null}}
   }}
 ],
 "resolve": {"axis": {"x": "independent", "y": "independent"}}
}
],
"spacing": 59,
"resolve": {"scale": {"color": "independent", "shape": "independent", "stroke": "independent", "x": "independent", "y": "independent"}}
},
{
"hconcat": [
{
 "width": 4, "height": 26, "view": {"stroke": null},
 "data": {"values": [{}]},
 "mark": {"type": "point", "opacity": 0},
 "encoding": {}
},
{
 "width": 206, "height": 26, "view": {"stroke": "#111", "strokeWidth": 1.3},
 "data": {"name": "legL"},
 "encoding": {
  "x": {"field": "s", "type": "nominal", "scale": {"type": "point", "domain": ["c","g","p","f"], "padding": 0.661, "align": 0.3}, "axis": null},
  "y": {"datum": 0, "type": "quantitative", "scale": {"domain": [-1, 1]}, "axis": null}
 },
 "layer": [
  {"transform": [{"filter": "datum.s != 'f'"}],
   "mark": {"type": "rule", "xOffset": -14, "x2Offset": 14, "strokeWidth": 1.2},
   "encoding": {
    "x2": {"field": "s"},
    "color": {"field": "s", "type": "nominal", "scale": {"domain": ["c","g","p","f"], "range": ["#e8141a","#28cc28","#2020d0","#000000"]}, "legend": null},
    "strokeDash": {"field": "s", "type": "nominal", "scale": {"domain": ["c","g","p","f"], "range": [[5,3],[1,0],[1,0],[1,0]]}, "legend": null}
   }},
  {"transform": [{"filter": "datum.s == 'f'"}],
   "mark": {"type": "rule", "xOffset": -19, "x2Offset": 19, "strokeWidth": 4, "color": "#111"},
   "encoding": {"x2": {"field": "s"}}},
  {"transform": [{"filter": "datum.s != 'f'"}],
   "mark": {"type": "point", "filled": false, "size": 16, "strokeWidth": 1.15},
   "encoding": {
    "color": {"field": "s", "type": "nominal", "scale": {"domain": ["c","g","p","f"], "range": ["#e8141a","#28cc28","#2020d0","#000000"]}, "legend": null},
    "shape": {"field": "s", "type": "nominal", "scale": {"domain": ["c","g","p","f"], "range": ["circle","triangle-up","triangle-down","square"]}, "legend": null}
   }},
  {"transform": [{"filter": "datum.s != 'f'"}],
   "mark": {"type": "text", "align": "left", "baseline": "middle", "dx": 16, "font": "Liberation Serif", "fontSize": 10.5, "color": "#333"},
   "encoding": {"text": {"field": "lab"}}},
  {"transform": [{"filter": "datum.s == 'f'"}],
   "mark": {"type": "text", "align": "left", "baseline": "middle", "dx": 20, "font": "Liberation Serif", "fontSize": 10.5, "color": "#333"},
   "encoding": {"text": {"field": "lab"}}}
 ]
},
{
 "width": 82, "height": 26, "view": {"stroke": null},
 "data": {"values": [{}]},
 "mark": {"type": "point", "opacity": 0},
 "encoding": {}
},
{
 "width": 271, "height": 26, "view": {"stroke": "#111", "strokeWidth": 1.3},
 "data": {"name": "legR"},
 "encoding": {
  "x": {"field": "s", "type": "nominal", "scale": {"type": "point", "domain": ["p","a","b1","b2","f"], "padding": 0.678, "align": 0.313}, "axis": null},
  "y": {"datum": 0, "type": "quantitative", "scale": {"domain": [-1, 1]}, "axis": null}
 },
 "layer": [
  {"transform": [{"filter": "datum.s != 'f'"}],
   "mark": {"type": "rule", "xOffset": -17, "x2Offset": 17, "strokeWidth": 1.2},
   "encoding": {
    "x2": {"field": "s"},
    "color": {"field": "s", "type": "nominal", "scale": {"domain": ["p","a","b1","b2","f"], "range": ["#e020e0","#ee1111","#28cc28","#2222cc","#000000"]}, "legend": null}
   }},
  {"transform": [{"filter": "datum.s == 'f'"}],
   "mark": {"type": "rule", "xOffset": -21, "x2Offset": 21, "strokeWidth": 4, "color": "#111"},
   "encoding": {"x2": {"field": "s"}}},
  {"transform": [{"filter": "datum.s != 'f'"}],
   "mark": {"type": "point", "filled": false, "size": 16, "strokeWidth": 1.15},
   "encoding": {
    "color": {"field": "s", "type": "nominal", "scale": {"domain": ["p","a","b1","b2","f"], "range": ["#e020e0","#ee1111","#28cc28","#2222cc","#000000"]}, "legend": null},
    "shape": {"field": "s", "type": "nominal", "scale": {"domain": ["p","a","b1","b2","f"], "range": ["triangle-down","circle","triangle-up","M-1.2,-1.2L1.2,1.2M1.2,-1.2L-1.2,1.2","square"]}, "legend": null}
   }},
  {"transform": [{"filter": "datum.s != 'f'"}],
   "mark": {"type": "text", "align": "left", "baseline": "middle", "dx": 19, "font": "Liberation Serif", "fontSize": 10.5, "color": "#333"},
   "encoding": {"text": {"field": "lab"}}},
  {"transform": [{"filter": "datum.s == 'f'"}],
   "mark": {"type": "text", "align": "left", "baseline": "middle", "dx": 22, "font": "Liberation Serif", "fontSize": 10.5, "color": "#333"},
   "encoding": {"text": {"field": "lab"}}}
 ]
}
],
"spacing": 20,
"resolve": {"scale": {"color": "independent", "shape": "independent", "strokeDash": "independent", "x": "independent", "y": "independent"}}
}
],
"spacing": 1,
"resolve": {"scale": {"color": "independent", "shape": "independent", "stroke": "independent", "strokeDash": "independent", "x": "independent", "y": "independent"}}
},
{
 "width": 641, "height": 20,
 "view": {"stroke": null},
 "data": {"values": [{}]},
 "layer": [
  {"mark": {"type": "text", "text": "Figure 3:", "align": "right", "baseline": "middle", "font": "Liberation Sans", "fontSize": 18.5, "fontWeight": "bold", "color": "#222", "dx": -152}},
  {"mark": {"type": "text", "text": "Parameters Estimates for L=24: Apple Inc.", "align": "left", "baseline": "middle", "font": "Liberation Sans", "fontSize": 18.5, "color": "#222", "dx": -148}}
 ]
}
],
"spacing": 11,
"resolve": {"scale": {"color": "independent", "shape": "independent", "stroke": "independent", "x": "independent", "y": "independent"}}
}
